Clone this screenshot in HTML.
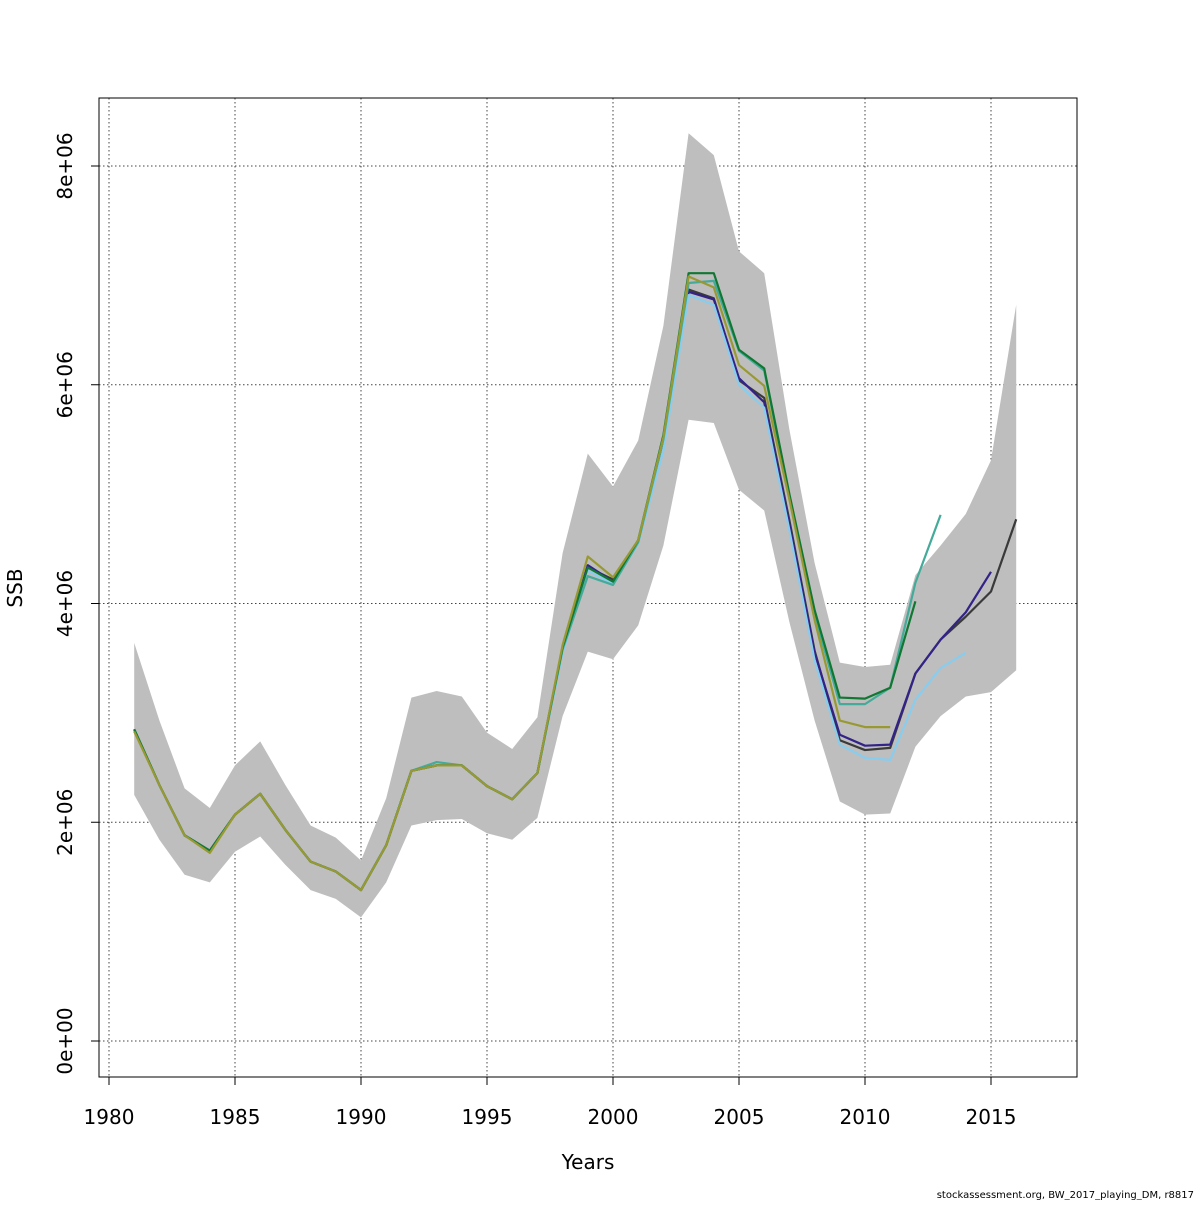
<!DOCTYPE html>
<html><head><meta charset="utf-8"><style>
body{margin:0;background:#fff}
svg text{font-family:"DejaVu Sans","Liberation Sans",sans-serif;fill:#000}
</style></head><body>
<svg id="chart" width="1200" height="1200" viewBox="0 0 1200 1200" xmlns="http://www.w3.org/2000/svg">
<g id="grid"></g>
<g id="band"></g>
<g id="lines"></g>
<rect x="99" y="98" width="978" height="979" fill="none" stroke="#000" stroke-width="1"/>
<g id="axes"></g>
<text x="588" y="1169" font-size="20" text-anchor="middle">Years</text>
<text x="22" y="588" font-size="20" text-anchor="middle" transform="rotate(-90 22 588)">SSB</text>
<text x="1194" y="1198" font-size="10" text-anchor="end">stockassessment.org, BW_2017_playing_DM, r8817</text>
</svg>
<script>
const years=[1981,1982,1983,1984,1985,1986,1987,1988,1989,1990,1991,1992,1993,1994,1995,1996,1997,1998,1999,2000,2001,2002,2003,2004,2005,2006,2007,2008,2009,2010,2011,2012,2013,2014,2015,2016];
const upper=[3.64,2.93,2.31,2.13,2.52,2.74,2.34,1.97,1.86,1.65,2.22,3.14,3.20,3.15,2.82,2.67,2.96,4.46,5.37,5.07,5.49,6.54,8.30,8.10,7.22,7.02,5.59,4.37,3.46,3.42,3.44,4.26,4.53,4.82,5.31,6.73];
const lower=[2.25,1.84,1.52,1.45,1.73,1.87,1.61,1.38,1.30,1.13,1.45,1.97,2.02,2.03,1.90,1.84,2.04,2.97,3.56,3.49,3.80,4.53,5.68,5.65,5.04,4.85,3.83,2.93,2.19,2.07,2.08,2.69,2.97,3.15,3.19,3.39];
const base=[2.85,2.34,1.88,1.74,2.07,2.26,1.93,1.64,1.55,1.38,1.79,2.47,2.52,2.52,2.33,2.21,2.45];
const olive=base.map((v,i)=>i===0?2.83:(i===3?1.72:v)).concat([3.62,4.43,4.24,4.58,5.52,6.99,6.89,6.18,5.99,4.95,3.85,2.93,2.87,2.87]);
const green=base.concat([3.60,4.33,4.20,4.58,5.54,7.02,7.02,6.32,6.15,5.00,3.94,3.14,3.13,3.23,4.02]);
const teal=base.map((v,i)=>i===12?2.55:v).concat([3.58,4.25,4.17,4.56,5.50,6.93,6.95,6.31,6.13,4.98,3.90,3.08,3.08,3.23,4.19,4.81]);
const lightblue=base.concat([3.55,4.30,4.18,4.55,5.40,6.82,6.73,6.00,5.79,4.67,3.48,2.71,2.59,2.57,3.12,3.41,3.55]);
const purple=base.concat([3.58,4.35,4.20,4.57,5.50,6.85,6.78,6.06,5.84,4.72,3.55,2.80,2.70,2.71,3.36,3.67,3.92,4.29]);
const darkgray=base.concat([3.60,4.33,4.22,4.57,5.52,6.87,6.79,6.04,5.88,4.76,3.57,2.75,2.66,2.68,3.36,3.67,3.88,4.11,4.77]);
const xTicks=[1980,1985,1990,1995,2000,2005,2010,2015];
const yTicks=[0,2,4,6,8];
const yTickLabels=["0e+00","2e+06","4e+06","6e+06","8e+06"];
const seriesList=[["darkgray",darkgray,"#3a3a3a"],["purple",purple,"#332288"],["lightblue",lightblue,"#88ccee"],["teal",teal,"#44aa99"],["green",green,"#117733"],["olive",olive,"#999933"]];
const X=y=>109+(y-1980)*25.2;
const Y=v=>1041-v*109.375;
const NS="http://www.w3.org/2000/svg";
function mk(tag,attrs,parent){const e=document.createElementNS(NS,tag);for(const k in attrs)e.setAttribute(k,attrs[k]);parent.appendChild(e);return e;}
const grid=document.getElementById('grid'),axes=document.getElementById('axes');
xTicks.forEach((t,i)=>{
 const g=mk('line',{x1:X(t),x2:X(t),y1:98,y2:1077,stroke:'#444','stroke-dasharray':'1.5,2.5','stroke-width':1},grid);
 
 
 const tk=mk('line',{x1:X(t),x2:X(t),y1:1077,y2:1085,stroke:'#000'},axes);
 
 
 const tx=mk('text',{x:X(t),y:1124,'font-size':20,'text-anchor':'middle'},axes);tx.textContent=t;
 
 
});
yTicks.forEach((t,i)=>{
 const g=mk('line',{x1:99,x2:1077,y1:Y(t),y2:Y(t),stroke:'#444','stroke-dasharray':'1.5,2.5','stroke-width':1},grid);
 
 
 const tk=mk('line',{x1:91,x2:99,y1:Y(t),y2:Y(t),stroke:'#000'},axes);
 
 
 const tx=mk('text',{x:72,y:Y(t),'font-size':20,'text-anchor':'middle',transform:`rotate(-90 72 ${Y(t)})`},axes);tx.textContent=yTickLabels[i];
 
 
});
let d='M'+years.map((y,i)=>X(y)+','+Y(upper[i])).join('L');
for(let i=years.length-1;i>=0;i--)d+='L'+X(years[i])+','+Y(lower[i]);
const band=mk('path',{d:d+'Z',fill:'#bebebe'},document.getElementById('band'));


const lines=document.getElementById('lines');
seriesList.forEach(([n,vals,c])=>{
 const p=mk('polyline',{points:vals.map((v,i)=>X(years[i])+','+Y(v)).join(' '),fill:'none',stroke:c,'stroke-width':2.2,'stroke-linejoin':'round'},lines);
 
 
});
</script>
</body></html>
